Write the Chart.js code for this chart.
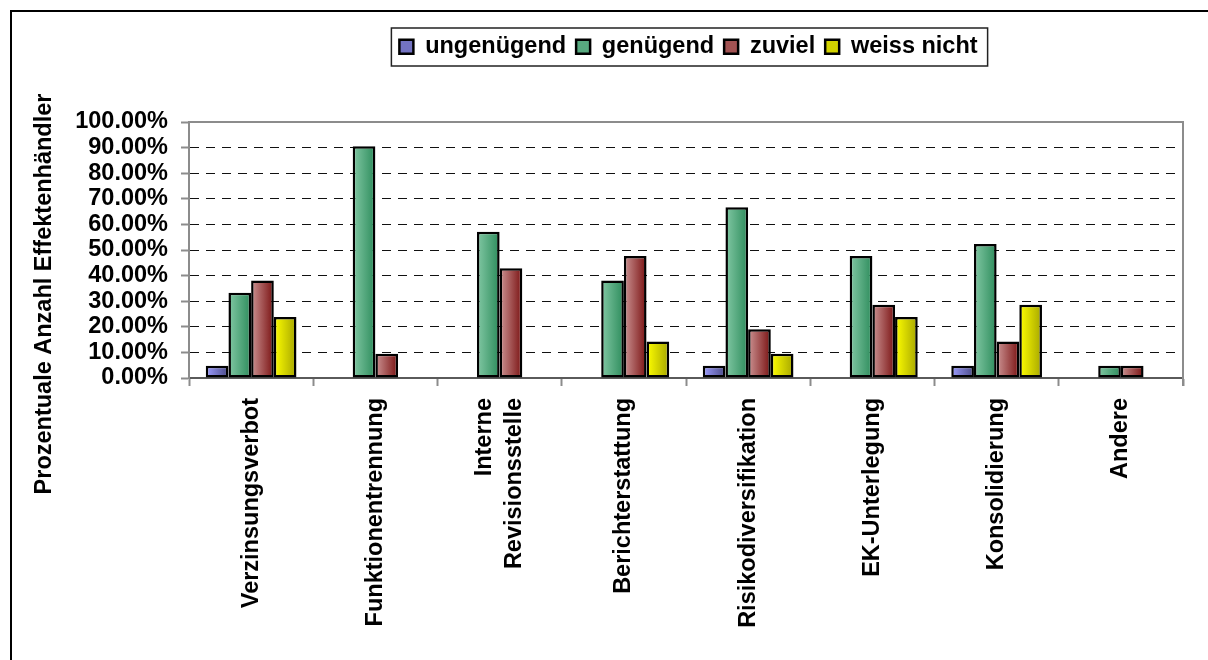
<!DOCTYPE html>
<html>
<head>
<meta charset="utf-8">
<script src="https://cdn.jsdelivr.net/npm/chart.js@4/dist/chart.umd.min.js"></script>
<style>
  html, body { margin: 0; padding: 0; background: #fff; }
  #wrap { width: 1208px; height: 660px; }
</style>
</head>
<body>
<div id="wrap"><canvas id="chart" width="1208" height="660"></canvas></div>
<script>
// categories (x axis)
const categories = [
    'Verzinsungsverbot',
    'Funktionentrennung',
    ['Interne', 'Revisionsstelle'],
    'Berichterstattung',
    'Risikodiversifikation',
    'EK-Unterlegung',
    'Konsolidierung',
    'Andere'
];

// series values, percent of securities dealers
const ungenuegend = [4.76, 0, 0, 0, 4.76, 0, 4.76, 0];
const genuegend   = [33.33, 90.48, 57.14, 38.10, 66.67, 47.62, 52.38, 4.76];
const zuviel      = [38.10, 9.52, 42.86, 47.62, 19.05, 28.57, 14.29, 4.76];
const weissNicht  = [23.81, 0, 0, 14.29, 9.52, 23.81, 28.57, 0];

const seriesLabels = ['ungenügend', 'genügend', 'zuviel', 'weiss nicht'];
const seriesValues = [ungenuegend, genuegend, zuviel, weissNicht];

// y axis ticks
const yTicks = [0, 10, 20, 30, 40, 50, 60, 70, 80, 90, 100];
const yTitle = 'Prozentuale Anzahl Effektenhändler';

// bar colours: light left edge -> dark right edge
const lightColors = ['#9d9dff', '#82c8a4', '#cc9494', '#ffff00'];
const darkColors  = ['#4a4a86', '#2d8c5c', '#7a1212', '#a6a600'];
const midColors   = ['#7373c2', '#58aa80', '#a35353', '#d3d300'];

const FAMILY = '"Liberation Sans", Arial, sans-serif';
const FONT = 'bold 23.5px ' + FAMILY;

// white page + the frame line at top/left
const framePlugin = {
    id: 'frame',
    beforeDraw(chart) {
        const ctx = chart.ctx;
        ctx.save();
        ctx.fillStyle = '#fff';
        ctx.fillRect(0, 0, chart.width, chart.height);
        ctx.strokeStyle = '#000';
        ctx.lineWidth = 2;
        ctx.beginPath();
        ctx.moveTo(11, chart.height);
        ctx.lineTo(11, 11);
        ctx.lineTo(chart.width, 11);
        ctx.stroke();
        ctx.restore();
    }
};

// move legend to the right like the original, draw its box
const legendPlugin = {
    id: 'legendBox',
    afterLayout(chart) {
        chart.legend.left += 87;
        chart.legend.right += 87;
    },
    afterDraw(chart) {
        const lg = chart.legend;
        const pad = lg.options.labels.padding;
        const c = (lg.left + lg.right) / 2;
        const w = lg.lineWidths[0] - pad;
        const ctx = chart.ctx;
        ctx.save();
        ctx.strokeStyle = '#222';
        ctx.lineWidth = 1.5;
        ctx.strokeRect(c - w / 2 - 8, lg.top + 3, w + 18, 38);
        ctx.restore();
    }
};

// two-line x labels: centre both lines on the tick
const labelPlugin = {
    id: 'centerMultiline',
    beforeDraw(chart) {
        const scale = chart.scales.x;
        if (!scale.getLabelItems) return;
        scale.getLabelItems().forEach(item => {
            const lines = Array.isArray(item.label) ? item.label.length : 1;
            if (lines > 1 && !item._shifted) {
                const lh = item.font.lineHeight;
                item.options.translation[0] -= (lines - 1) * lh / 2;
                item._shifted = true;
            }
        });
    }
};

// horizontal gradient fill on each bar
const gradientPlugin = {
    id: 'barGradient',
    beforeDatasetsDraw(chart) {
        const ctx = chart.ctx;
        chart.data.datasets.forEach((ds, i) => {
            chart.getDatasetMeta(i).data.forEach(bar => {
                const {x, width} = bar.getProps(['x', 'width'], true);
                const g = ctx.createLinearGradient(x - width / 2, 0, x + width / 2, 0);
                g.addColorStop(0, lightColors[i]);
                g.addColorStop(1, darkColors[i]);
                bar.options = Object.assign({}, bar.options, { backgroundColor: g });
            });
        });
    }
};

// plot border (top/right) and rotated y title
const areaPlugin = {
    id: 'area',
    afterDraw(chart) {
        const a = chart.chartArea;
        const ctx = chart.ctx;
        ctx.save();
        ctx.strokeStyle = '#8c8c8c';
        ctx.lineWidth = 2;
        ctx.beginPath();
        ctx.moveTo(a.left, a.top);
        ctx.lineTo(a.right, a.top);
        ctx.lineTo(a.right, a.bottom + 8);
        ctx.stroke();
        ctx.translate(45, 294);
        ctx.rotate(-Math.PI / 2);
        ctx.font = FONT;
        ctx.fillStyle = '#000';
        ctx.textAlign = 'center';
        ctx.textBaseline = 'middle';
        ctx.fillText(yTitle, 0, 0);
        ctx.restore();
    }
};

const datasets = seriesLabels.map((label, i) => ({
    label: label,
    data: seriesValues[i],
    backgroundColor: ctx => midColors[ctx.datasetIndex],
    borderColor: '#000',
    borderWidth: 2.5,
    borderSkipped: false,
    categoryPercentage: 0.73,
    barPercentage: 1.0
}));

new Chart(document.getElementById('chart'), {
    type: 'bar',
    data: { labels: categories, datasets: datasets },
    plugins: [framePlugin, legendPlugin, labelPlugin, gradientPlugin, areaPlugin],
    options: {
        responsive: false,
        animation: false,
        events: [],
        layout: { padding: { top: 25, left: 20, right: 25, bottom: 0 } },
        font: { family: FAMILY },
        plugins: {
            tooltip: { enabled: false },
            legend: {
                display: true,
                position: 'top',
                weight: 1000,
                labels: {
                    boxWidth: 14,
                    boxHeight: 14,
                    padding: 10,
                    color: '#000',
                    font: { size: 23.5, weight: 'bold', family: FAMILY }
                }
            },
            // empty spacer between legend and plot
            subtitle: {
                display: true,
                position: 'top',
                weight: 100,
                text: ' ',
                font: { size: 10, lineHeight: 1 },
                padding: { top: 0, bottom: 43.5 }
            }
        },
        scales: {
            x: {
                afterFit(scale) { scale.height = 282; },
                grid: {
                    offset: true,
                    drawOnChartArea: false,
                    tickLength: 8,
                    tickColor: '#8c8c8c',
                    tickWidth: 2
                },
                border: { color: '#5a5a5a', width: 2 },
                ticks: {
                    autoSkip: false,
                    minRotation: 90,
                    maxRotation: 90,
                    padding: 12,
                    color: '#000',
                    font: { size: 23.5, weight: 'bold', family: FAMILY, lineHeight: 1.25 }
                }
            },
            y: {
                min: 0,
                max: 100,
                afterFit(scale) { scale.width = 169; },
                afterBuildTicks(scale) { scale.ticks = yTicks.map(v => ({ value: v })); },
                grid: {
                    color: ctx => (ctx.tick && (ctx.tick.value === 0 || ctx.tick.value === 100)) ? 'rgba(0,0,0,0)' : '#111',
                    lineWidth: 1,
                    tickLength: 8,
                    tickColor: '#8c8c8c',
                    tickWidth: 2,
                    tickBorderDash: []
                },
                border: { color: '#8c8c8c', width: 2, dash: [9, 7] },
                ticks: {
                    autoSkip: false,
                    padding: 13,
                    color: '#000',
                    font: { size: 23.5, weight: 'bold', family: FAMILY, lineHeight: 1 },
                    callback: v => v.toFixed(2) + '%'
                }
            }
        }
    }
});
</script>
</body>
</html>
